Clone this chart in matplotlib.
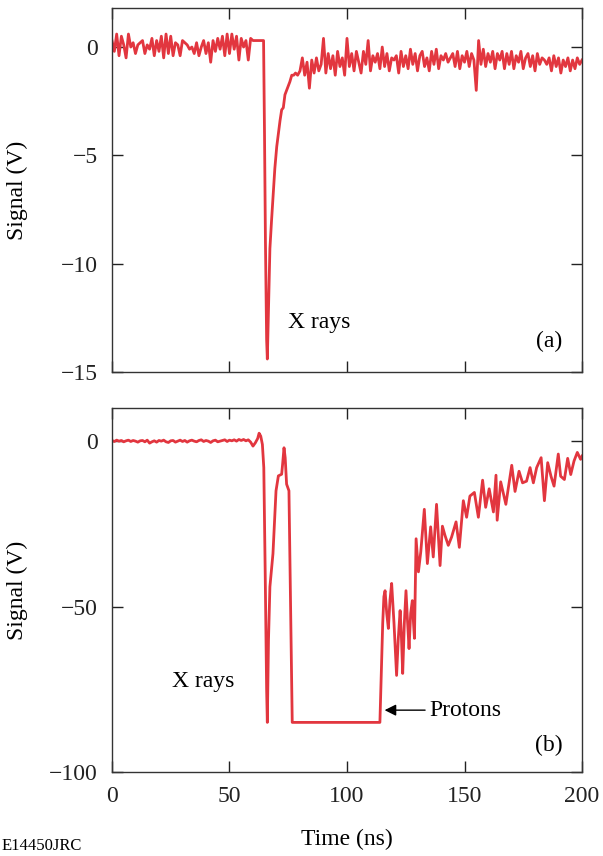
import numpy as np
import matplotlib
matplotlib.use("Agg")
import matplotlib.pyplot as plt

plt.rcParams['font.family'] = ['Liberation Serif', 'DejaVu Serif']
plt.rcParams['mathtext.fontset'] = 'stix'

# ---------------- Panel (a) data ----------------
va_pre = [0.3, -0.2, 0.6, -0.4, 0.5, 0.1, -0.5, 0.6, 0.0, 0.2, -0.3, 0.1, 0.2, 0.3, -0.3, 0.1,
          -0.1, 0.4, -0.4, 0.3, -0.2, 0.5, -0.5, 0.6, -0.3, 0.5, -0.4, 0.2, 0.1, -0.4, 0.3, 0.2,
          0.1, -0.1, 0.0, -0.3, 0.2, -0.4, 0.0, 0.3, -0.3, 0.2, -0.7, 0.3, -0.2, 0.4, -0.1, 0.5,
          -0.4, 0.6, -0.3, 0.6, -0.1, 0.5, -0.6, 0.4, 0.0, 0.3, -0.6, 0.4, 0.3, 0.3, 0.3, 0.3]
ta_pulse = [64.5, 64.9, 65.3, 65.8, 66.1, 66.5, 67.2, 67.9, 68.6, 69.3, 70.1, 70.8, 71.5, 72.2,
            72.9, 73.6, 74.3, 75.0, 75.7, 76.5, 77.3, 78.1, 79.0]
va_pulse = [0.3, -4.0, -9.0, -13.5, -14.4, -12.5, -9.3, -8.0, -6.8, -5.6, -4.6, -4.0, -3.4, -2.9,
            -2.8, -2.2, -2.0, -1.8, -1.6, -1.3, -1.3, -1.2, -1.3]
va_post = [-1.1, -0.5, -1.3, -0.7, -1.9, -0.6, -1.2, -0.5, -1.1, -0.8, 0.4, -1.2, -0.3, -1.0, -0.4,
           -1.3, -0.2, -0.9, -0.5, -1.3, 0.4, -0.9, -0.3, -1.1, -0.2, -0.7, -1.2, -0.2, -0.8, 0.3,
           -1.1, -0.4, -0.7, -0.3, -1.0, 0.0, -0.9, -0.3, -1.1, -0.5, -0.6, -0.4, -1.2, -0.2, -0.9,
           -0.4, -1.0, -0.1, -0.8, -0.3, -1.1, -0.4, -0.2, -0.9, -0.5, -1.1, -0.2, -0.8, -0.1, -1.0,
           -0.4, -0.6, -0.3, -0.7, -0.5, -0.3, -0.9, -0.2, -1.0, -0.4, -0.7, -0.2, -0.9, -0.3, -0.6,
           -2.0, 0.3, -0.8, -0.1, -0.9, -0.3, -0.7, -0.2, -1.0, -0.3, -0.6, -0.2, -1.0, -0.3, -0.8,
           -0.2, -1.0, -0.4, -0.7, -0.2, -1.0, -0.5, -0.3, -0.9, -0.4, -1.1, -0.3, -0.8, -0.5, -0.6,
           -0.8, -0.5, -1.1, -0.4, -0.9, -0.5, -1.2, -0.6, -0.9, -0.5, -1.1, -0.6, -1.0, -0.5, -0.8,
           -0.6]

# ---------------- Panel (b) data ----------------
vb_pre = [0.2, -0.1, 0.3, 0.0, 0.2, -0.2, 0.1, 0.3, -0.1, 0.2, 0.0, -0.3, 0.1, 0.2, -0.2, 0.3,
          -0.6, -0.2, 0.1, -0.3, 0.2, 0.0, 0.3, -0.2, -0.4, 0.1, 0.2, -0.3, 0.0, 0.3, -0.1, 0.2,
          -0.3, 0.1, 0.3, 0.0, -0.2, 0.2, 0.4, -0.1, 0.2, 0.0, -0.4, 0.1, 0.3, -0.2, 0.0, 0.2,
          0.4, -0.1, 0.3, 0.1, 0.4, 0.0, 0.5, 0.2, 0.5, 0.1, 0.4]
tb_event = [59.0, 60.0, 61.0, 62.0, 62.6, 63.3, 64.0, 64.6, 65.2, 65.8, 66.1, 66.6, 67.2, 68.5,
            69.8, 70.8, 72.2, 72.6, 73.2, 73.7, 74.3, 75.3, 76.7, 114.0, 115.2, 115.7, 116.2,
            116.9, 117.6, 118.3, 119.0, 120.0, 121.1, 121.8, 122.6, 123.1, 123.7, 124.4, 125.1,
            125.8, 126.4, 127.1, 127.8, 128.3, 128.7, 129.4, 130.4, 131.4, 132.9, 134.2, 135.6,
            136.7, 138.1, 139.6, 140.6, 141.7, 143.1, 144.5, 146.4, 147.8, 149.5, 150.9, 152.3,
            154.2, 155.9, 157.7, 159.0, 160.5, 162.3, 163.4, 163.9, 165.4, 167.6, 170.1, 171.5,
            173.2, 174.7, 176.4, 177.9, 179.3, 180.7, 182.6, 184.0, 185.4, 186.8, 188.1, 189.9,
            190.9, 192.5, 193.9, 195.2, 196.6, 198.0, 199.4, 200.0]
vb_event = [-0.3, -1.5, -0.5, 0.8, 2.4, 1.5, -1.0, -8.0, -40.0, -75.0, -85.0, -60.0, -44.0, -34.0,
            -15.0, -10.5, -10.0, -7.0, -2.0, -5.0, -13.0, -15.0, -85.0, -85.0, -55.0, -47.0, -45.2,
            -52.0, -56.6, -48.0, -43.0, -55.0, -70.8, -60.0, -51.2, -58.0, -70.2, -55.0, -45.2,
            -55.0, -62.7, -52.0, -48.2, -55.0, -59.6, -29.5, -39.5, -33.4, -20.6, -37.0, -25.9,
            -35.0, -19.1, -37.6, -25.7, -28.5, -31.5, -29.0, -24.4, -32.1, -18.0, -23.0, -16.6,
            -15.5, -23.0, -11.8, -20.0, -14.4, -21.4, -10.3, -23.9, -12.3, -19.1, -7.3, -15.2,
            -9.1, -12.6, -12.1, -8.0, -12.6, -8.0, -5.0, -18.0, -6.5, -10.6, -13.6, -3.9,
            -10.6, -11.6, -5.2, -10.1, -6.0, -3.4, -5.5, -4.5]

ta = np.concatenate([np.arange(len(va_pre)) * 1.0, ta_pulse, 80.0 + np.arange(len(va_post))])
va = np.concatenate([va_pre, va_pulse, va_post])
tb = np.concatenate([np.arange(len(vb_pre)) * 1.0, tb_event])
vb = np.concatenate([vb_pre, vb_event])

red = '#E2363F'
fs = 17

fig = plt.figure(figsize=(6.03, 8.56), dpi=100)
ax1 = fig.add_axes([0.1857, 0.5654, 0.7795, 0.4252])
ax2 = fig.add_axes([0.1857, 0.0981, 0.7795, 0.4252])

for ax in (ax1, ax2):
    ax.tick_params(direction='in', length=8, width=1, top=True, right=True,
                   labelsize=fs, pad=10, colors='#222222')
    for s in ax.spines.values():
        s.set_linewidth(1.0)
        s.set_color('#333333')
    ax.set_xlim(0, 200)
    ax.set_xticks([0, 50, 100, 150, 200])
    ax.set_ylabel('Signal (V)', fontsize=fs)
    ax.yaxis.set_label_coords(-0.178, 0.5)

ax1.plot(ta, va, color=red, lw=2.0)
ax1.set_ylim(-15, 1.8)
ax1.set_yticks([0, -5, -10, -15])
ax1.set_xticklabels([])
ax1.text(88, -12.7, 'X rays', fontsize=fs, ha='center', va='center')
ax1.text(186, -13.6, '(a)', fontsize=fs, ha='center', va='center')

ax2.plot(tb, vb, color=red, lw=2.0)
ax2.set_ylim(-100, 10)
ax2.set_yticks([0, -50, -100])
ax2.set_xlabel('Time (ns)', fontsize=fs, labelpad=16)
ax2.text(39, -72.6, 'X rays', fontsize=fs, ha='center', va='center')
ax2.text(186, -92, '(b)', fontsize=fs, ha='center', va='center')
ax2.annotate('Protons', xy=(116, -81.3), xytext=(135, -81.3), fontsize=fs,
             ha='left', va='center',
             arrowprops=dict(arrowstyle='-|>', color='black', lw=1.0,
                             mutation_scale=17, shrinkA=1, shrinkB=0))

fig.text(0.003, 0.002, 'E14450JRC', fontsize=12, ha='left', va='bottom')

fig.savefig('out.png', dpi=100)
